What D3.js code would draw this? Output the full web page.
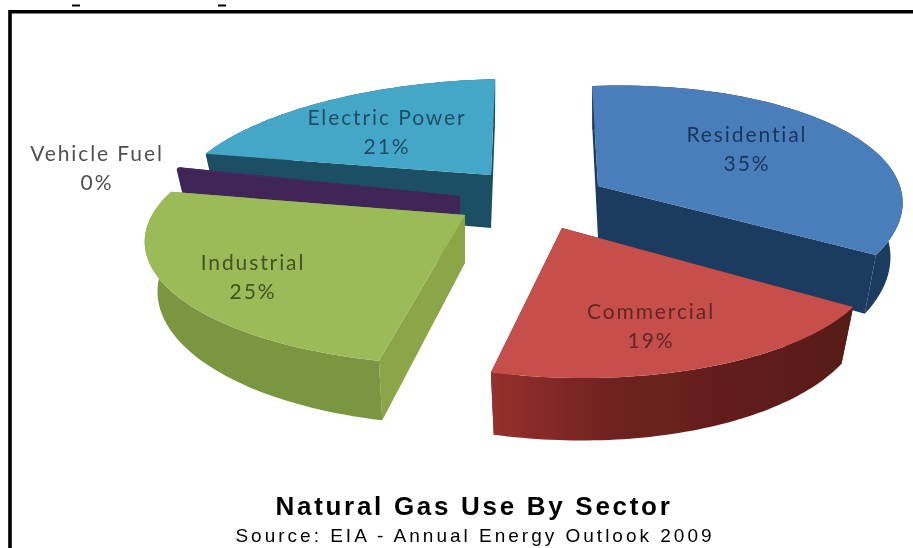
<!DOCTYPE html>
<html>
<head>
<meta charset="utf-8">
<script src="https://cdn.jsdelivr.net/npm/d3@7"></script>
<style>
  html, body { margin: 0; padding: 0; background: #fff; overflow: hidden; }
  svg { display: block; }
</style>
</head>
<body>
<svg></svg>
<script>
const categories = ["Residential", "Commercial", "Industrial", "Vehicle Fuel", "Electric Power"];
const shares = [35, 19, 25, 0.3, 21];

const width = 913;
const height = 548;
const svg = d3.select("svg").attr("width", width).attr("height", height);

// flattened disc, front of the pie is closer to the camera
const perspective = 0.2;
const bottomShrink = 0.96;

// where each exploded slice ended up, and the look of it
const sliceLayout = {
  Residential: { cx: 598, cy: 186, rx: 297, ry: 120, depth: 52, shear: 7, tilt: -11, top: "#4a7ebb", wall: "#1f3a60", side: "#1f3a60", label: [747, 135], order: 2 },
  Commercial: { cx: 562, cy: 228, rx: 305, ry: 120, depth: 50, shear: 16, tilt: 0, top: "#c6504b", wall: "url(#commercialWall)", side: "#5f1c1a", label: [651, 312], order: 3 },
  Industrial: { cx: 465, cy: 215, rx: 315, ry: 120, depth: 48, shear: 6, tilt: -4, top: "#9bbb59", wall: "#7a963f", side: "#8aa646", label: [253, 263], order: 4 },
  "Vehicle Fuel": { cx: 460, cy: 196, rx: 305, ry: 120, depth: 50, shear: 0, tilt: 0, top: "#432a5e", wall: "#3f2656", side: "#3f2656", label: [97, 154], order: 1 },
  "Electric Power": { cx: 491, cy: 175, rx: 311, ry: 115, depth: 53, shear: -5, tilt: -7, top: "#45a7c8", wall: "#1d5064", side: "#1d5064", label: [387, 118], order: 0 },
};
const labelColors = { Residential: "#17365d", Commercial: "#632523", Industrial: "#3f5220", "Vehicle Fuel": "#505050", "Electric Power": "#1f4e63" };

const defs = svg.append("defs");
const grad = defs.append("linearGradient").attr("id", "commercialWall");
grad.append("stop").attr("offset", "0%").attr("stop-color", "#96302d");
grad.append("stop").attr("offset", "35%").attr("stop-color", "#6e2220");
grad.append("stop").attr("offset", "100%").attr("stop-color", "#571a18");
defs.append("filter").attr("id", "soft").append("feGaussianBlur").attr("stdDeviation", 0.7);

// frame, cropped from a bigger page
const frame = svg.append("g").attr("filter", "url(#soft)");
frame.append("path")
  .attr("d", "M10,548V11.7H913")
  .attr("fill", "none")
  .attr("stroke", "#000")
  .attr("stroke-width", 3.6);
[[72, 80], [218, 226]].forEach((t) => {
  frame.append("line")
    .attr("x1", t[0]).attr("x2", t[1]).attr("y1", 5.5).attr("y2", 5.5)
    .attr("stroke", "#000").attr("stroke-width", 2);
});

// angle 0 is straight up, clockwise like d3.arc
const project = (s, angle, r, bottom) => {
  const u = Math.sin(angle) * r;
  const v = -Math.cos(angle) * r;
  const k = 1 / (1 - perspective * v);
  const x = (s.rx * u + s.shear * v) * k;
  const y = (s.ry * v + s.tilt * u) * k;
  return bottom
    ? [s.cx + x * bottomShrink, s.cy + y + s.depth * k]
    : [s.cx + x, s.cy + y];
};

const line = d3.line();
const arcPoints = (s, a0, a1, bottom) =>
  d3.range(0, 61).map((i) => project(s, a0 + ((a1 - a0) * i) / 60, 1, bottom));

const pie = d3.pie().sort(null).value((d) => d)(shares);
const slices = pie
  .map((p, i) => ({ p, name: categories[i], s: sliceLayout[categories[i]] }))
  .sort((a, b) => a.s.order - b.s.order);

const chart = svg.append("g").attr("filter", "url(#soft)");
slices.forEach(({ p, s }) => {
  const g = chart.append("g");
  const a0 = p.startAngle;
  const a1 = p.endAngle;
  const apexTop = project(s, 0, 0, false);
  const apexBottom = project(s, 0, 0, true);

  // the two cut faces
  [a0, a1].forEach((a) => {
    g.append("path")
      .attr("d", line([apexTop, project(s, a, 1, false), project(s, a, 1, true), apexBottom]) + "Z")
      .attr("fill", s.side);
  });
  // outer curved wall
  const topArc = arcPoints(s, a0, a1, false);
  const bottomArc = arcPoints(s, a0, a1, true);
  g.append("path")
    .attr("d", line(topArc.concat(bottomArc.reverse())) + "Z")
    .attr("fill", s.wall);
  // top face
  g.append("path")
    .attr("d", line([apexTop].concat(topArc)) + "Z")
    .attr("fill", s.top);
});

// slice labels
const labels = svg.append("g")
  .attr("font-family", "Lato, 'Open Sans', sans-serif")
  .attr("font-size", 21)
  .attr("letter-spacing", 1.9)
  .attr("text-anchor", "middle")
  .attr("filter", "url(#soft)");
categories.forEach((name, i) => {
  const s = sliceLayout[name];
  const g = labels.append("g").attr("fill", labelColors[name]);
  g.append("text").attr("x", s.label[0]).attr("y", s.label[1]).attr("dy", "0.35em").text(name);
  g.append("text").attr("x", s.label[0]).attr("y", s.label[1] + 29).attr("dy", "0.35em").text(Math.round(shares[i]) + "%");
});

// title block
svg.append("text")
  .attr("x", 474).attr("y", 506).attr("dy", "0.35em")
  .attr("text-anchor", "middle")
  .attr("font-family", "'Liberation Sans', Arial, sans-serif")
  .attr("font-weight", "bold").attr("font-size", 26).attr("letter-spacing", 2.7)
  .attr("filter", "url(#soft)")
  .text("Natural Gas Use By Sector");
svg.append("text")
  .attr("x", 475).attr("y", 535).attr("dy", "0.35em")
  .attr("text-anchor", "middle")
  .attr("font-family", "'Liberation Sans', Arial, sans-serif")
  .attr("font-size", 19).attr("letter-spacing", 3)
  .attr("filter", "url(#soft)")
  .text("Source: EIA - Annual Energy Outlook 2009");
</script>
</body>
</html>
